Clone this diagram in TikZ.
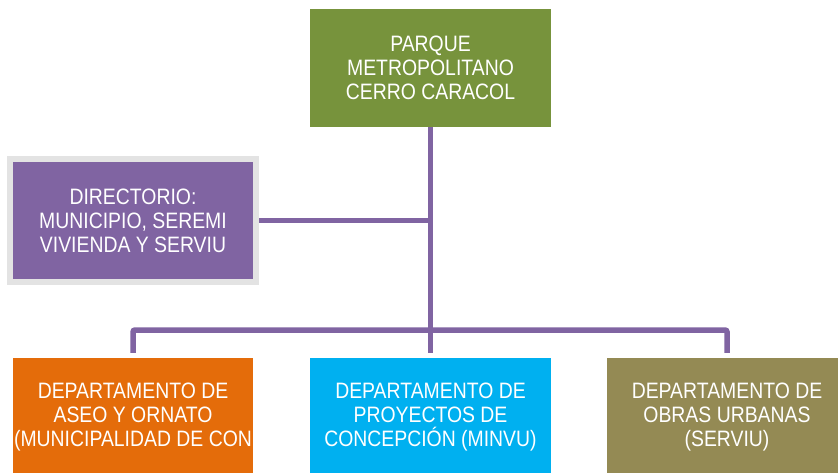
\documentclass[tikz,border=0pt]{standalone}
\usepackage{fontspec}
\setmainfont{Liberation Sans}[FakeStretch=0.87]
\usetikzlibrary{positioning}
\definecolor{parkgreen}{HTML}{77933C}
\definecolor{boardpurple}{HTML}{8064A2}
\definecolor{boardgray}{HTML}{E3E3E3}
\definecolor{aseoorange}{HTML}{E46C0A}
\definecolor{minvublue}{HTML}{00B0F0}
\definecolor{serviuolive}{HTML}{948A54}

\begin{document}
\begin{tikzpicture}[x=1pt,y=-1pt,
    unitbox/.style={rectangle, inner sep=0pt, minimum width=240pt, minimum height=118pt,
        align=center, text=white, font=\fontsize{22.3}{24}\selectfont},
    conn/.style={draw=boardpurple, line width=5.5pt, rounded corners=2pt}]
\useasboundingbox (0,0) rectangle (838,473);
% Head of the park
\node[unitbox, fill=parkgreen, minimum width=241pt] (parque) at (430.5,68) {PARQUE\\METROPOLITANO\\CERRO CARACOL};
% Board
\node[unitbox, fill=boardpurple, draw=boardgray, line width=6pt, minimum width=246pt, minimum height=123pt] (directorio) at (133,220.5) {DIRECTORIO:\\MUNICIPIO, SEREMI\\VIVIENDA Y SERVIU};
% Departments
\node[unitbox, fill=aseoorange] (aseo) at (133,417) {DEPARTAMENTO DE\\ASEO Y ORNATO\\(MUNICIPALIDAD DE CON};
\node[unitbox, fill=minvublue, minimum width=241pt] (proyectos) at (430.5,417) {DEPARTAMENTO DE\\PROYECTOS DE\\CONCEPCI\'ON (MINVU)};
\node[unitbox, fill=serviuolive] (obras) at (727,417) {DEPARTAMENTO DE\\OBRAS URBANAS\\(SERVIU)};
% Connectors
\coordinate (bus) at (430.5,330);
\draw[conn, shorten >=5pt] (parque.south) -- (proyectos.north);
\draw[conn] (directorio.east) -- (directorio.east -| parque.south);
\draw[conn, shorten <=5pt, shorten >=5pt] (aseo.north) |- (bus) -| (obras.north);
\end{tikzpicture}
\end{document}
